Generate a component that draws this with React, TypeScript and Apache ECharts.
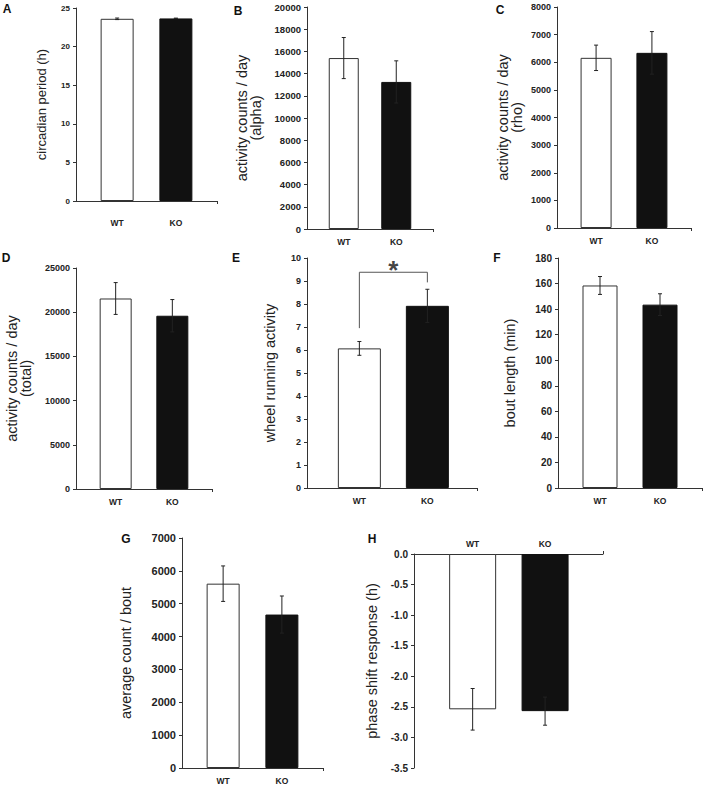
import React, { useEffect, useRef } from "react";
import * as echarts from "echarts";

// ---- data ----
const groups = ["WT", "KO"];
const groupPositions = [0, 1];

const periodMean = [23.6, 23.65];
const periodErr = [0.1, 0.04];
const alphaMean = [15400, 13250];
const alphaErr = [1850, 1900];
const rhoMean = [6160, 6340];
const rhoErr = [460, 770];
const totalMean = [21550, 19600];
const totalErr = [1800, 1830];
const wheelMean = [6.07, 7.92];
const wheelErr = [0.3, 0.72];
const boutMean = [158.5, 143.5];
const boutErr = [7, 8.5];
const countMean = [5610, 4670];
const countErr = [540, 565];
const phaseMean = [-2.54, -2.57];
const phaseErr = [0.34, 0.23];

// significance bracket in panel E
const sigBracketX = [0, 0, 1, 1];
const sigBracketY = [6.95, 9.38, 9.38, 8.94];
const sigStarX = [0.5];
const sigStarY = [9.38];
const sigLabel = "*";

const panelLetters = ["A", "B", "C", "D", "E", "F", "G", "H"];
const axisTitles = [
  "circadian period (h)",
  "activity counts / day\n(alpha)",
  "activity counts / day\n(rho)",
  "activity counts / day\n(total)",
  "wheel running activity",
  "bout length (min)",
  "average count / bout",
  "phase shift response (h)",
];
const yMins = [0, 0, 0, 0, 0, 0, 0, -3.5];
const yMaxs = [25, 20000, 8000, 25000, 10, 180, 7000, 0];
const yIntervals = [5, 2000, 1000, 5000, 1, 20, 1000, 0.5];
const yDecimals = [0, 0, 0, 0, 0, 0, 0, 1];
const means = [periodMean, alphaMean, rhoMean, totalMean, wheelMean, boutMean, countMean, phaseMean];
const errs = [periodErr, alphaErr, rhoErr, totalErr, wheelErr, boutErr, countErr, phaseErr];

// ---- layout / style ----
const layouts = [
  { left: 76, top: 8, width: 141, height: 193, xMin: -0.7, xMax: 1.7, barWidth: 33, nameGap: 28, nameSize: 13, labelSize: 8, catMargin: 17, letter: [7, 9] },
  { left: 307, top: 7, width: 126, height: 222, xMin: -0.7, xMax: 1.7, barWidth: 30, nameGap: 44, nameSize: 14.5, labelSize: 9.5, catMargin: 8, letter: [238, 11] },
  { left: 557, top: 7, width: 134, height: 221, xMin: -0.7, xMax: 1.7, barWidth: 31, nameGap: 33, nameSize: 14.5, labelSize: 9, catMargin: 8, letter: [500, 10] },
  { left: 76, top: 268, width: 136, height: 221, xMin: -0.7, xMax: 1.7, barWidth: 32, nameGap: 43, nameSize: 14.5, labelSize: 9, catMargin: 8, letter: [6, 258] },
  { left: 307, top: 258, width: 170, height: 230, xMin: -0.77, xMax: 1.73, barWidth: 43, nameGap: 30, nameSize: 14.5, labelSize: 9, catMargin: 8, letter: [236, 258] },
  { left: 558, top: 258, width: 144, height: 230, xMin: -0.7, xMax: 1.7, barWidth: 35, nameGap: 41, nameSize: 14.5, labelSize: 10, catMargin: 8, letter: [497, 258] },
  { left: 182, top: 538, width: 141, height: 230, xMin: -0.7, xMax: 1.7, barWidth: 33, nameGap: 49, nameSize: 14.5, labelSize: 11, catMargin: 8, letter: [126, 539] },
  { left: 414, top: 554, width: 189, height: 214, xMin: -0.81, xMax: 1.8, barWidth: 47, nameGap: 35, nameSize: 14.5, labelSize: 10, catMargin: 6, letter: [372, 539] },
];

const FONT = "Liberation Sans, Arial, sans-serif";
const INK = "#222";
const barFills = ["#ffffff", "#111111"];
const barBorders = ["#333333", "#111111"];

function buildOption() {
  const grid: any[] = [];
  const xAxis: any[] = [];
  const yAxis: any[] = [];
  const series: any[] = [];
  const graphic: any[] = [];

  layouts.forEach((L, i) => {
    const isTop = yMaxs[i] === 0;
    grid.push({ left: L.left, top: L.top, width: L.width, height: L.height, containLabel: false });
    xAxis.push({
      type: "value",
      gridIndex: i,
      min: L.xMin,
      max: L.xMax,
      position: isTop ? "top" : "bottom",
      splitLine: { show: false },
      axisLine: { show: true, onZero: false, lineStyle: { color: "#333", width: 1 } },
      axisTick: { show: true, customValues: [L.xMax], length: 3, lineStyle: { color: "#333" } },
      axisLabel: {
        show: true,
        customValues: groupPositions,
        formatter: (v: number) => groups[Math.round(v)] ?? "",
        fontFamily: FONT,
        fontWeight: "bold",
        fontSize: 8.5,
        color: INK,
        margin: L.catMargin,
      },
    });
    yAxis.push({
      type: "value",
      gridIndex: i,
      position: "left",
      min: yMins[i],
      max: yMaxs[i],
      interval: yIntervals[i],
      name: axisTitles[i],
      nameLocation: "middle",
      nameGap: L.nameGap,
      nameRotate: 90,
      nameTextStyle: { fontFamily: FONT, fontSize: L.nameSize, color: INK, lineHeight: 14 },
      splitLine: { show: false },
      axisLine: { show: true, onZero: false, lineStyle: { color: "#333", width: 1 } },
      axisTick: { show: true, length: 3, lineStyle: { color: "#333" } },
      axisLabel: {
        fontFamily: FONT,
        fontWeight: "bold",
        fontSize: L.labelSize,
        color: INK,
        margin: 6,
        formatter: (v: number) => v.toFixed(yDecimals[i]),
      },
    });
    series.push({
      type: "bar",
      xAxisIndex: i,
      yAxisIndex: i,
      barWidth: L.barWidth,
      data: groupPositions.map((x, k) => ({
        value: [x, means[i][k]],
        itemStyle: { color: barFills[k], borderColor: barBorders[k], borderWidth: 1 },
      })),
      z: 2,
    });
    series.push({
      type: "custom",
      xAxisIndex: i,
      yAxisIndex: i,
      z: 5,
      encode: { x: 0, y: 1 },
      data: groupPositions.map((x, k) => [x, means[i][k], errs[i][k]]),
      renderItem: (params: any, api: any) => {
        const x = api.value(0);
        const m = api.value(1);
        const e = api.value(2);
        const p1 = api.coord([x, m + e]);
        const p2 = api.coord([x, m - e]);
        const cap = 2;
        const st = { stroke: "#222", lineWidth: 1 };
        return {
          type: "group",
          children: [
            { type: "line", shape: { x1: p1[0], y1: p1[1], x2: p2[0], y2: p2[1] }, style: st },
            { type: "line", shape: { x1: p1[0] - cap, y1: p1[1], x2: p1[0] + cap, y2: p1[1] }, style: st },
            { type: "line", shape: { x1: p2[0] - cap, y1: p2[1], x2: p2[0] + cap, y2: p2[1] }, style: st },
          ],
        };
      },
    });
    graphic.push({
      type: "text",
      x: L.letter[0],
      y: L.letter[1],
      style: {
        text: panelLetters[i],
        font: `bold 12px ${FONT}`,
        fill: "#111",
        align: "center",
        verticalAlign: "middle",
      },
    });
  });

  // significance bracket + star on panel E
  series.push({
    type: "line",
    xAxisIndex: 4,
    yAxisIndex: 4,
    symbol: "none",
    lineStyle: { color: "#555", width: 1 },
    data: sigBracketX.map((x, k) => [x, sigBracketY[k]]),
    z: 6,
  });
  series.push({
    type: "scatter",
    xAxisIndex: 4,
    yAxisIndex: 4,
    symbolSize: 0,
    data: sigStarX.map((x, k) => [x, sigStarY[k]]),
    label: {
      show: true,
      position: "inside",
      offset: [0, -2],
      formatter: () => sigLabel,
      fontFamily: FONT,
      fontWeight: "bold",
      fontSize: 26,
      color: "#111",
    },
    z: 6,
  });

  return {
    animation: false,
    backgroundColor: "#ffffff",
    grid,
    xAxis,
    yAxis,
    series,
    graphic,
  };
}

export default function App() {
  const ref = useRef<HTMLDivElement>(null);
  useEffect(() => {
    if (!ref.current) return;
    const chart = echarts.init(ref.current, undefined, { renderer: "svg" });
    chart.setOption(buildOption() as any);
    return () => chart.dispose();
  }, []);
  return (
    <div
      ref={ref}
      style={{ position: "absolute", left: 0, top: 0, width: 708, height: 786, background: "#fff" }}
    />
  );
}
